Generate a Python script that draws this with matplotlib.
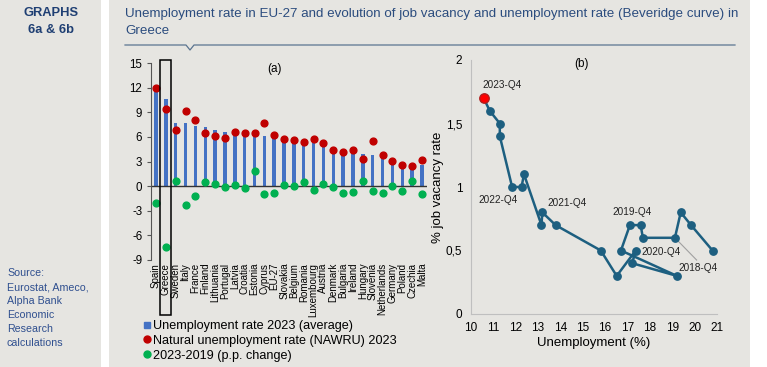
import matplotlib
matplotlib.use('Agg')
import matplotlib.pyplot as plt
import matplotlib.transforms as mtransforms
from matplotlib.patches import Rectangle
from matplotlib.lines import Line2D

plt.rcParams['font.family'] = ['Liberation Sans', 'DejaVu Sans']
plt.rcParams['axes.unicode_minus'] = False

# ---- data: panel (a)
countries = ['Spain', 'Greece', 'Sweden', 'Italy', 'France', 'Finland', 'Lithuania',
             'Portugal', 'Latvia', 'Croatia', 'Estonia', 'Cyprus', 'EU-27', 'Slovakia',
             'Belgium', 'Romania', 'Luxembourg', 'Austria', 'Denmark', 'Bulgaria',
             'Ireland', 'Hungary', 'Slovenia', 'Netherlands', 'Germany', 'Poland',
             'Czechia', 'Malta']
unemp_2023 = [12.0, 10.6, 7.7, 7.7, 7.35, 7.25, 6.8, 6.6, 6.5, 6.4, 6.4, 6.1, 6.0, 5.8,
              5.5, 5.4, 5.2, 5.2, 4.8, 4.3, 4.3, 3.9, 3.8, 3.6, 3.0, 2.8, 2.5, 2.6]
nawru_2023 = [11.95, 9.4, 6.8, 9.2, 8.0, 6.5, 6.1, 5.9, 6.6, 6.5, 6.5, 7.7, 6.2, 5.8,
              5.6, 5.4, 5.8, 5.3, 4.4, 4.1, 4.4, 3.3, 5.5, 3.8, 3.1, 2.6, 2.4, 3.2]
change_2023_2019 = [-2.0, -7.4, 0.6, -2.3, -1.2, 0.45, 0.3, -0.15, 0.1, -0.2, 1.8, -1.0,
                    -0.8, 0.15, 0.0, 0.5, -0.45, 0.3, -0.15, -0.8, -0.7, 0.65, -0.55,
                    -0.8, 0.0, -0.55, 0.65, -1.0]

# ---- data: panel (b) Beveridge curve, Greece (path order)
bev_unemp = [20.8, 19.84, 19.38, 19.12, 17.69, 17.59, 17.11, 16.71, 19.21, 17.21, 17.37,
             16.52, 15.81, 13.79, 13.2, 13.16, 12.38, 12.27, 11.85, 11.3, 11.3, 10.85, 10.58]
bev_vacancy = [0.5, 0.7, 0.8, 0.6, 0.6, 0.7, 0.7, 0.5, 0.3, 0.4, 0.5,
               0.3, 0.5, 0.7, 0.8, 0.7, 1.1, 1.0, 1.0, 1.4, 1.5, 1.6, 1.7]
bev_labels = ['2023-Q4', '2022-Q4', '2021-Q4', '2019-Q4', '2020-Q4', '2018-Q4']
bev_label_xy = [(10.54, 1.8), (10.36, 0.9), (13.43, 0.876), (16.33, 0.805), (17.63, 0.49), (19.29, 0.365)]

bg = '#E6E5E1'
navy = '#1F3F73'
W, H = 767, 367

fig = plt.figure(figsize=(7.67, 3.67), dpi=100)
fig.patch.set_facecolor('white')
fig.patches.append(Rectangle((0, 0), 101 / W, 1, transform=fig.transFigure,
                             facecolor=bg, edgecolor='none', zorder=-10))
fig.patches.append(Rectangle((109 / W, 0), (750 - 109) / W, 1, transform=fig.transFigure,
                             facecolor=bg, edgecolor='none', zorder=-10))

def fx(px):
    return px / W

def fy(py):
    return 1 - py / H

# header texts
fig.text(fx(51), fy(13), 'GRAPHS', color=navy, fontsize=9.3, fontweight='bold', ha='center', va='center')
fig.text(fx(51), fy(30), '6a & 6b', color=navy, fontsize=9.3, fontweight='bold', ha='center', va='center')
fig.text(fx(125), fy(14), 'Unemployment rate in EU-27 and evolution of job vacancy and unemployment '
         'rate (Beveridge curve) in', color='#2B4C7E', fontsize=9.6, va='center')
fig.text(fx(125), fy(31), 'Greece', color='#2B4C7E', fontsize=9.6, va='center')
fig.lines.append(Line2D([fx(125), fx(186), fx(190), fx(194), fx(735)],
                        [fy(45), fy(45), fy(50), fy(45), fy(45)],
                        transform=fig.transFigure, color='#5A7490', lw=0.9))
src = 'Source:\nEurostat, Ameco,\nAlpha Bank\nEconomic\nResearch\ncalculations'
fig.text(fx(7), fy(268), src, color='#2F4F8F', fontsize=7.7, va='top', linespacing=1.5)

# ---- panel (a)
ax1 = fig.add_axes([fx(150.6), fy(260), fx(426.9 - 150.6), (260 - 63) / H])
ax1.set_facecolor('none')
x = list(range(len(countries)))
ax1.bar(x, unemp_2023, width=0.35, color='#4472C4', zorder=2)
ax1.scatter(x, nawru_2023, s=24, color='#C00000', zorder=3)
ax1.scatter(x, change_2023_2019, s=24, color='#00B050', zorder=3)
ax1.axhline(0, color='#333333', lw=1.0, zorder=2.5)
ax1.set_xlim(-0.55, 27.5)
ax1.set_ylim(-9, 15)
ax1.set_yticks(range(-9, 16, 3))
ax1.set_xticks(x)
ax1.set_xticklabels(countries, rotation=90, fontsize=7)
ax1.tick_params(axis='x', length=0, pad=2)
ax1.tick_params(axis='y', labelsize=8.3, length=3, color='#555555', pad=3)
for s in ['top', 'right', 'bottom']:
    ax1.spines[s].set_visible(False)
ax1.spines['left'].set_color('#555555')
ax1.text(0.45, 0.97, '(a)', transform=ax1.transAxes, fontsize=8.5, ha='center', va='center')
trans = mtransforms.blended_transform_factory(ax1.transData, ax1.transAxes)
ax1.add_patch(Rectangle((0.45, -0.28), 1.1, 1.295, transform=trans, fill=False,
                        edgecolor='black', lw=1.1, clip_on=False, zorder=4))
handles = [Line2D([], [], marker='s', ls='none', color='#4472C4', markersize=4),
           Line2D([], [], marker='o', ls='none', color='#C00000', markersize=5),
           Line2D([], [], marker='o', ls='none', color='#00B050', markersize=5)]
ax1.legend(handles, ['Unemployment rate 2023 (average)', 'Natural unemployment rate (NAWRU) 2023',
                     '2023-2019 (p.p. change)'],
           loc='upper left', bbox_to_anchor=(fx(143), fy(320)), bbox_transform=fig.transFigure,
           frameon=False, fontsize=9.1, handlelength=0.6, handletextpad=0.2, labelspacing=0.22,
           borderpad=0, borderaxespad=0)

# ---- panel (b)
ax2 = fig.add_axes([fx(470.7), fy(314), fx(717 - 470.7), (314 - 60) / H])
ax2.set_facecolor('none')
ax2.plot(bev_unemp, bev_vacancy, color='#1D5F80', lw=1.8, marker='o', markersize=5.3, zorder=3)
ax2.plot(bev_unemp[-1], bev_vacancy[-1], marker='o', markersize=6.8, color='#FF0000',
         markeredgecolor='#B02020', zorder=4)
ax2.set_xlim(10, 21)
ax2.set_ylim(0, 2)
ax2.set_xticks(range(10, 22))
ax2.set_yticks([0, 0.5, 1, 1.5, 2])
ax2.set_yticklabels(['0', '0,5', '1', '1,5', '2'])
ax2.tick_params(length=0, labelsize=8.5, pad=6)
for s in ['top', 'right']:
    ax2.spines[s].set_visible(False)
for s in ['left', 'bottom']:
    ax2.spines[s].set_color('#BFBFBF')
ax2.set_xlabel('Unemployment (%)', fontsize=9.5, labelpad=2)
ax2.set_ylabel('% job vacancy rate', fontsize=9.5, labelpad=1)
ax2.text(0.45, 0.985, '(b)', transform=ax2.transAxes, fontsize=8.5, ha='center', va='center')
for lab, (tx, ty) in zip(bev_labels, bev_label_xy):
    ax2.text(tx, ty, lab, fontsize=7.2, ha='left', va='center', color='#222222')
ax2.plot([19.12, 20.09], [0.6, 0.425], color='#A0A0A0', lw=0.8, zorder=2)

fig.savefig('out.png', dpi=100, facecolor=fig.get_facecolor())
